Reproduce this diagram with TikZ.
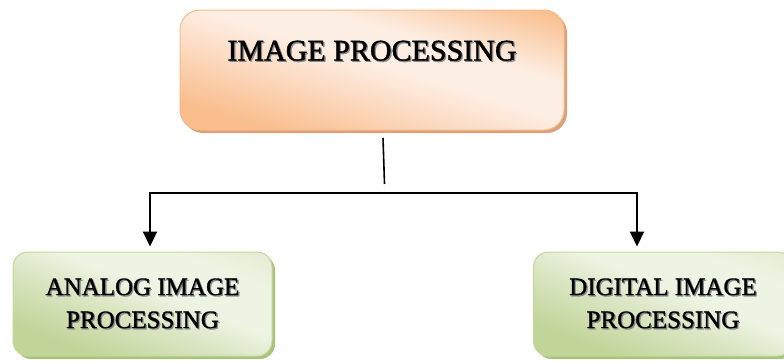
\documentclass[tikz,border=0pt]{standalone}
\usepackage{fontspec}
\setmainfont{Liberation Serif}[FakeBold=1.2]
\usetikzlibrary{arrows.meta,shadows}

\definecolor{peachdark}{HTML}{F9BE8C}
\definecolor{peachmid}{HTML}{FCDCC4}
\definecolor{peachlight}{HTML}{FDEEE3}
\definecolor{peachedge}{HTML}{F5BA8B}
\definecolor{peachshadow}{HTML}{D9A27A}
\definecolor{olivedark}{HTML}{C2D599}
\definecolor{olivemid}{HTML}{DCE7C6}
\definecolor{olivelight}{HTML}{EEF4E4}
\definecolor{oliveedge}{HTML}{C3D69B}
\definecolor{oliveshadow}{HTML}{A9C47A}
\definecolor{textshade}{HTML}{8A8A8A}

% diagonal fills: saturated at two opposite corners, pale band in between
\pgfdeclareverticalshading{peachband}{100bp}{color(0bp)=(peachdark); color(26bp)=(peachdark);
  color(42bp)=(peachmid); color(52bp)=(peachlight); color(62bp)=(peachlight);
  color(80bp)=(peachdark); color(100bp)=(peachdark)}
\pgfdeclareverticalshading{oliveband}{100bp}{color(0bp)=(olivedark); color(28bp)=(olivedark);
  color(46bp)=(olivemid); color(56bp)=(olivelight); color(70bp)=(olivelight);
  color(90bp)=(olivemid); color(100bp)=(olivemid)}

% text with a soft grey offset copy behind it
\newcommand\shadedcaps[1]{\leavevmode\rlap{\kern1.3pt\raisebox{-1.3pt}{\textcolor{textshade}{#1}}}#1}

\tikzset{
  boxbase/.style={rounded corners=#1, line width=1pt, inner sep=0pt, align=center},
  headbox/.style={boxbase=20pt, draw=peachedge,
    shading=peachband, shading angle=-17,
    drop shadow={shadow xshift=3pt, shadow yshift=-3pt, fill=peachshadow, opacity=1},
    minimum width=384pt, minimum height=120pt,
    font=\fontsize{30}{34}\selectfont, text height=21pt, text depth=40pt},
  leafbox/.style={boxbase=15pt, draw=oliveedge,
    shading=oliveband, shading angle=-22,
    drop shadow={shadow xshift=3pt, shadow yshift=-3pt, fill=oliveshadow, opacity=1},
    minimum width=259pt, minimum height=104pt,
    font=\fontsize{25}{35}\selectfont},
  flow/.style={line width=2pt, line join=miter,
    {Triangle[length=15pt,width=14pt]}-{Triangle[length=15pt,width=14pt]},
    shorten <=5pt, shorten >=5pt},
  stemline/.style={line width=1.6pt}
}

\begin{document}
\begin{tikzpicture}[x=1pt,y=-1pt]
  \useasboundingbox (0,0) rectangle (784,360);
  \clip (0,0) rectangle (784,360);

  \node[headbox] (head) at (372,70) {\shadedcaps{IMAGE PROCESSING}};

  \node[leafbox] (analog) at (142.5,304)
    {\shadedcaps{ANALOG IMAGE}\\[-2pt]\shadedcaps{PROCESSING}};
  \node[leafbox, anchor=west] (digital) at (533,304)
    {\shadedcaps{DIGITAL IMAGE}\\[-2pt]\shadedcaps{PROCESSING}};

  % short stem below the heading box
  \coordinate (stemtop) at (383,138);
  \coordinate (stemend) at (384.5,184);
  \draw[stemline] (stemtop) -- (stemend);

  % branch bar with arrows to both leaves
  \coordinate (lc) at (150,193);
  \coordinate (rc) at (637,193);
  \draw[flow] (lc |- analog.north) -- (lc) -- (rc) -- (rc |- digital.north);
\end{tikzpicture}
\end{document}
